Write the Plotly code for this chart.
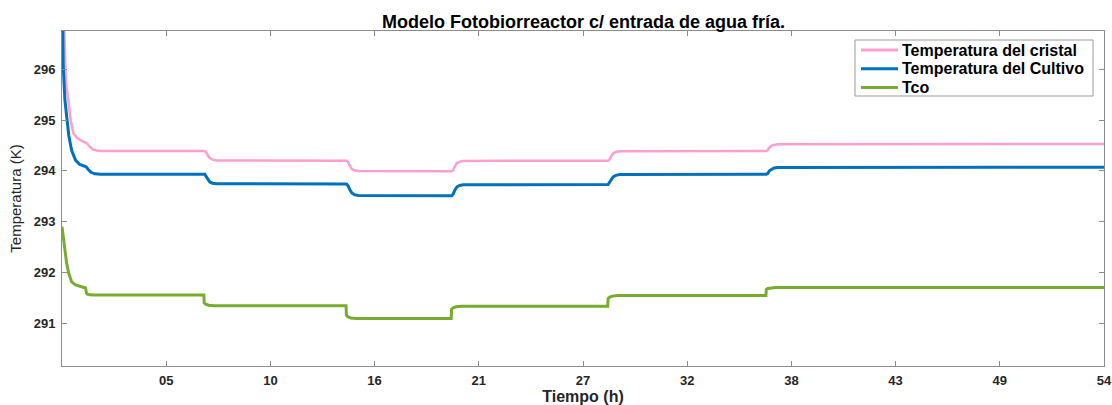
import plotly.graph_objects as go

# ---------------------------------------------------------------------------
# Simulated temperatures of the photobioreactor (time in hours, values in K)
# ---------------------------------------------------------------------------
t_cristal = [0.00, 0.10, 0.15, 0.20, 0.33, 0.45, 0.59, 0.75, 0.93, 1.15, 1.30, 1.45, 1.60, 1.80, 2.00,
             7.40, 7.48, 7.56, 7.66, 7.80, 8.00,
             14.75, 14.83, 14.91, 15.01, 15.15, 15.35,
             20.20, 20.28, 20.36, 20.46, 20.60, 20.80,
             28.30, 28.38, 28.46, 28.56, 28.70, 28.90,
             36.50, 36.58, 36.66, 36.76, 36.90, 37.10, 54.00]
T_cristal = [298.20, 297.00, 296.40, 295.75, 295.39, 295.00, 294.74, 294.66, 294.61, 294.57, 294.54, 294.47, 294.42, 294.40, 294.39,
             294.39, 294.36, 294.30, 294.25, 294.22, 294.205,
             294.20, 294.17, 294.10, 294.04, 294.01, 293.995,
             293.99, 294.02, 294.09, 294.15, 294.18, 294.195,
             294.20, 294.23, 294.29, 294.34, 294.37, 294.385,
             294.39, 294.41, 294.46, 294.49, 294.51, 294.525, 294.53]

t_cultivo = [0.00, 0.03, 0.06, 0.15, 0.25, 0.35, 0.50, 0.70, 0.90, 1.10, 1.25, 1.35, 1.50, 1.70, 2.00,
             7.40, 7.48, 7.56, 7.66, 7.80, 8.00,
             14.75, 14.83, 14.91, 15.01, 15.15, 15.35,
             20.20, 20.28, 20.36, 20.46, 20.60, 20.80,
             28.30, 28.38, 28.46, 28.56, 28.70, 28.90,
             36.50, 36.58, 36.66, 36.76, 36.90, 37.10, 54.00]
T_cultivo = [298.50, 296.75, 296.10, 295.40, 295.00, 294.70, 294.40, 294.21, 294.13, 294.10, 294.08, 294.03, 293.97, 293.94, 293.93,
             293.93, 293.89, 293.83, 293.78, 293.755, 293.745,
             293.74, 293.70, 293.63, 293.57, 293.53, 293.515,
             293.51, 293.55, 293.62, 293.68, 293.71, 293.725,
             293.73, 293.77, 293.83, 293.88, 293.91, 293.925,
             293.93, 293.95, 294.00, 294.03, 294.055, 294.065, 294.07]

t_tco = [0.00, 0.08, 0.16, 0.24, 0.35, 0.50, 0.70, 0.93, 1.15, 1.22, 1.26, 1.32, 1.45, 1.70,
         7.35, 7.37, 7.45, 7.60, 7.90,
         14.72, 14.74, 14.82, 14.97, 15.25,
         20.17, 20.19, 20.27, 20.42, 20.70,
         28.28, 28.30, 28.38, 28.53, 28.80,
         36.48, 36.50, 36.58, 36.73, 37.00, 54.00]
T_tco = [292.90, 292.62, 292.37, 292.18, 291.98, 291.81, 291.75, 291.72, 291.70, 291.69, 291.60, 291.57, 291.555, 291.55,
         291.55, 291.40, 291.37, 291.35, 291.34,
         291.34, 291.15, 291.12, 291.10, 291.09,
         291.09, 291.27, 291.30, 291.32, 291.33,
         291.33, 291.48, 291.51, 291.53, 291.54,
         291.54, 291.66, 291.68, 291.69, 291.70, 291.70]

series_names = ["Temperatura del cristal", "Temperatura del Cultivo", "Tco"]
series_colors = ["#FF9ECF", "#0072BD", "#77AC30"]
series_widths = [2.5, 3.0, 3.0]

x_tick_vals = [5.4, 10.8, 16.2, 21.6, 27.0, 32.4, 37.8, 43.2, 48.6, 54.0]
x_tick_text = ["05", "10", "16", "21", "27", "32", "38", "43", "49", "54"]
y_tick_vals = [291, 292, 293, 294, 295, 296]

# ---------------------------------------------------------------------------
# Figure geometry
# ---------------------------------------------------------------------------
W, H = 1112, 405
M_L, M_R, M_T, M_B = 62, 8, 31, 39
FONT = "Liberation Sans, Arial, sans-serif"
AXIS_GRAY = "#8c8c8c"
TEXT_DARK = "#262626"


def paper_x(px):
    return (px - M_L) / (W - M_L - M_R)


def paper_y(py):
    return (H - M_B - py) / (H - M_T - M_B)


fig = go.Figure()
for t, T, name, color, width in zip(
    [t_cristal, t_cultivo, t_tco],
    [T_cristal, T_cultivo, T_tco],
    series_names, series_colors, series_widths,
):
    fig.add_trace(go.Scatter(
        x=t, y=T, name=name, mode="lines",
        line=dict(color=color, width=width),
        showlegend=False,
    ))

# Legend box drawn in the upper-right corner of the axes
shapes = [dict(type="rect", xref="paper", yref="paper",
               x0=paper_x(855), x1=paper_x(1093), y0=paper_y(96), y1=paper_y(40),
               line=dict(color="#9a9a9a", width=1), fillcolor="white", layer="above")]
annotations = []
for i, (name, color) in enumerate(zip(series_names, series_colors)):
    yc = paper_y(50 + i * 18.7)
    shapes.append(dict(type="line", xref="paper", yref="paper",
                       x0=paper_x(861), x1=paper_x(898), y0=yc, y1=yc,
                       line=dict(color=color, width=3), layer="above"))
    annotations.append(dict(xref="paper", yref="paper", x=paper_x(900), y=yc,
                            xanchor="left", yanchor="middle", showarrow=False,
                            text=f"<b>{name}</b>",
                            font=dict(family=FONT, size=16, color="black")))

axis_common = dict(
    automargin=False,
    showline=True, linecolor=AXIS_GRAY, linewidth=1, mirror="ticks",
    ticks="inside", ticklen=5, tickcolor=AXIS_GRAY, tickwidth=1,
    showgrid=False, zeroline=False,
    tickfont=dict(family=FONT, size=13, color=TEXT_DARK, weight="bold"),
)

fig.update_layout(
    width=W, height=H,
    autosize=False,
    margin=dict(l=M_L, r=M_R, t=M_T, b=M_B, autoexpand=False),
    paper_bgcolor="white", plot_bgcolor="white",
    title=dict(text="<b>Modelo Fotobiorreactor c/ entrada de agua fría.</b>",
               x=583.5 / W, xanchor="center",
               y=1 - 21.5 / H, yanchor="middle", automargin=False,
               font=dict(family=FONT, size=18, color="black")),
    xaxis=dict(range=[0, 54], tickvals=x_tick_vals, ticktext=x_tick_text,
               ticklabelstandoff=2,
               title=dict(text="<b>Tiempo (h)</b>", standoff=3,
                          font=dict(family=FONT, size=16, color=TEXT_DARK)),
               **axis_common),
    yaxis=dict(range=[290.153, 296.755], tickvals=y_tick_vals,
               ticklabelstandoff=3,
               title=dict(text="Temperatura (K)", standoff=8,
                          font=dict(family=FONT, size=15, color=TEXT_DARK)),
               **axis_common),
    shapes=shapes,
    annotations=annotations,
    showlegend=False,
)

fig.write_html("out.html")
